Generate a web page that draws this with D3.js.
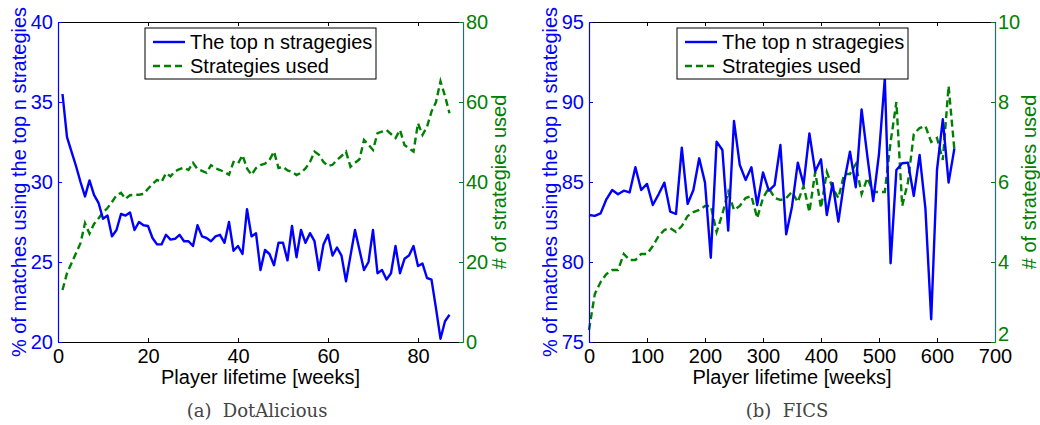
<!DOCTYPE html>
<html>
<head>
<meta charset="utf-8">
<script src="https://cdn.jsdelivr.net/npm/d3@7"></script>
<style>
  body { margin: 0; background: #fff; }
  svg { display: block; font-family: "Liberation Sans", Arial, sans-serif; }
</style>
</head>
<body>
<svg id="chart" width="1040" height="425"></svg>
<script>
// DotAlicious: one point per week, weeks 1..87
const dotaTop = [
  35.5, 32.8, 31.9, 31.0, 30.0, 29.1, 30.1, 29.2, 28.7, 27.7,
  27.9, 26.6, 27.0, 28.0, 27.9, 28.1, 27.0, 27.5, 27.3, 27.25,
  26.5, 26.1, 26.1, 26.7, 26.4, 26.45, 26.7, 26.3, 26.3, 26.0,
  27.3, 26.6, 26.5, 26.3, 26.6, 26.7, 26.2, 27.5, 25.7, 26.0,
  25.5, 28.3, 26.6, 26.8, 24.5, 25.75, 25.5, 24.8, 26.2, 26.2,
  25.1, 27.25, 25.3, 27.0, 26.2, 26.8, 26.3, 24.5, 26.1, 26.7,
  25.4, 25.9, 25.4, 23.8, 25.4, 27.0, 25.75, 24.5, 25.0, 27.0,
  24.3, 24.5, 23.9, 24.3, 26.0, 24.3, 25.2, 25.4, 26.0, 24.75,
  24.9, 24.0, 23.9, 22.1, 20.2, 21.3, 21.7
];
const dotaUsed = [
  13, 17.2, 19.7, 22.2, 24.7, 29.7, 27.1, 29.5, 30.9, 32.4,
  33.5, 35, 36.7, 37.3, 35.8, 36.7, 36.8, 36.8, 37, 38.3,
  39.5, 40.5, 40, 42.2, 41.4, 42.7, 43.2, 43.6, 43, 44.8,
  43.2, 42.8, 42.3, 44.2, 43.4, 43, 42.5, 41.8, 45, 44.6,
  46.7, 43.4, 41.8, 43.5, 44.25, 44.6, 45.5, 47.6, 43.5, 43.8,
  42.9, 42.5, 41.75, 42.3, 43.4, 45, 47.6, 46.8, 45, 44,
  44.3, 45.5, 46.5, 47.6, 43.8, 44.8, 45.7, 50.5, 49.3, 48,
  52.2, 52.6, 53, 52, 51, 53, 49.25, 48.4, 47.6, 54.7,
  51.75, 53.8, 57.6, 60, 65.2, 61.5, 57.2
];

// FICS: one point every 10 weeks, weeks 0..630
const ficsTop = [
  82.94, 82.88, 83.04, 83.92, 84.5, 84.23, 84.46, 84.35, 85.92, 84.5,
  84.88, 83.56, 84.23, 84.96, 83.15, 83.0, 87.15, 83.63, 84.5, 86.48,
  84.96, 80.27, 87.52, 87.0, 81.96, 88.81, 86.06, 85.13, 85.92, 83.56,
  85.6, 84.46, 84.81, 87.31, 81.73, 83.46, 86.21, 84.85, 88.04, 85.65,
  86.42, 82.94, 84.92, 82.52, 85.02, 86.9, 84.67, 89.54, 86.58, 83.81,
  86.75, 91.48, 79.92, 85.75, 86.17, 86.21, 84.13, 86.69, 83.35, 76.42,
  85.75, 88.92, 84.96, 87.1
];
const ficsUsed = [
  2.3, 3.2, 3.5, 3.7, 3.8, 3.8, 4.2, 4.05, 4.05, 4.2,
  4.2, 4.4, 4.65, 4.8, 4.85, 4.75, 4.9, 5.15, 5.25, 5.3,
  5.4, 5.4, 4.75, 5.2, 5.75, 5.3, 5.4, 5.6, 5.65, 5.1,
  5.6, 5.85, 5.6, 5.55, 5.6, 5.75, 5.5, 5.9, 5.25, 6.25,
  5.35, 6.25, 5.85, 5.6, 6.2, 6.2, 6.45, 5.7, 6.1, 5.75,
  5.75, 5.75, 7.0, 8.0, 5.4, 6.0, 7.2, 7.35, 7.4, 7.0,
  7.1, 6.55, 8.4, 6.8
];

const dotaXTicks = [0, 20, 40, 60, 80];
const dotaLeftTicks = [20, 25, 30, 35, 40];
const dotaRightTicks = [0, 20, 40, 60, 80];
const ficsXTicks = [0, 100, 200, 300, 400, 500, 600, 700];
const ficsLeftTicks = [75, 80, 85, 90, 95];
const ficsRightTicks = [2, 4, 6, 8, 10];

const legendLabels = ['The top n stragegies', 'Strategies used'];
const xLabel = 'Player lifetime [weeks]';
const leftLabel = '% of matches using the top n strategies';
const rightLabel = '# of strategies used';

const BLUE = '#0000ff';
const GREEN = '#008000';
const FS = 20;

const svg = d3.select('#chart');

function drawPanel(p) {
  const top = 22, bottom = 342;
  const x = d3.scaleLinear().domain(p.xDomain).range([p.left, p.right]);
  const yL = d3.scaleLinear().domain(p.yLDomain).range([bottom, top]);
  const yR = d3.scaleLinear().domain(p.yRDomain).range([bottom, top]);
  const g = svg.append('g');

  // lines
  const lineL = d3.line().x((d, i) => x(p.x0 + i * p.step)).y(d => yL(d));
  const lineR = d3.line().x((d, i) => x(p.x0 + i * p.step)).y(d => yR(d));
  g.append('path').datum(p.used)
    .attr('d', lineR).attr('fill', 'none')
    .attr('stroke', GREEN).attr('stroke-width', 2.4)
    .attr('stroke-dasharray', '7,4');
  g.append('path').datum(p.topN)
    .attr('d', lineL).attr('fill', 'none')
    .attr('stroke', BLUE).attr('stroke-width', 2.4)
    .attr('stroke-linejoin', 'round');

  // axes
  const styleAxis = (sel, color) => {
    sel.attr('font-size', FS).attr('font-family', '"Liberation Sans", Arial, sans-serif')
      .attr('color', color);
    sel.select('.domain').attr('stroke-width', 1.2);
  };
  g.append('g').attr('transform', `translate(0,${top})`)
    .call(d3.axisTop(x).tickValues(p.xTicks).tickSize(-4).tickSizeOuter(0).tickFormat(''))
    .call(sel => styleAxis(sel, '#000'));
  g.append('g').attr('transform', `translate(0,${bottom})`)
    .call(d3.axisBottom(x).tickValues(p.xTicks).tickSize(-4).tickSizeOuter(0).tickPadding(7))
    .call(sel => styleAxis(sel, '#000'));
  g.append('g').attr('transform', `translate(${p.left},0)`)
    .call(d3.axisLeft(yL).tickValues(p.leftTicks).tickSize(-4).tickSizeOuter(0).tickPadding(5))
    .call(sel => styleAxis(sel, BLUE));
  const rAx = g.append('g').attr('transform', `translate(${p.right},0)`)
    .call(d3.axisRight(yR).tickValues(p.rightTicks).tickSize(-4).tickSizeOuter(0).tickPadding(3))
    .call(sel => styleAxis(sel, GREEN));
  rAx.select('.domain').attr('stroke', '#2a6a80');
  // where an x label sits at the right corner, lift the lowest right label clear of it
  if (p.liftLowRight) {
    rAx.selectAll('.tick text').filter(d => d === p.rightTicks[0]).attr('dy', '-0.1em');
  }

  // axis labels
  g.append('text').attr('x', (p.left + p.right) / 2).attr('y', 384)
    .attr('text-anchor', 'middle').attr('font-size', FS).text(xLabel);
  g.append('text')
    .attr('transform', `translate(${p.left - 32},${(top + bottom) / 2}) rotate(-90)`)
    .attr('text-anchor', 'middle').attr('font-size', FS).attr('fill', BLUE).text(leftLabel);
  g.append('text')
    .attr('transform', `translate(${p.right + p.rLabelOff},${(top + bottom) / 2}) rotate(-90)`)
    .attr('text-anchor', 'middle').attr('font-size', FS).attr('fill', GREEN).text(rightLabel);

  // legend
  const lg = g.append('g').attr('transform', `translate(${p.legendX},28)`);
  lg.append('rect').attr('width', 231).attr('height', 51)
    .attr('fill', '#fff').attr('stroke', '#000').attr('stroke-width', 1);
  [[BLUE, null], [GREEN, '7,4']].forEach(([c, dash], i) => {
    const yy = 14 + i * 24;
    lg.append('line').attr('x1', 8).attr('x2', 40).attr('y1', yy).attr('y2', yy)
      .attr('stroke', c).attr('stroke-width', 2.4).attr('stroke-dasharray', dash);
    lg.append('text').attr('x', 45).attr('y', yy + 7).attr('font-size', FS)
      .text(legendLabels[i]);
  });

  // caption
  g.append('text').attr('x', p.capX).attr('y', 417).attr('text-anchor', 'middle')
    .attr('font-family', '"DejaVu Serif", serif').attr('font-size', 18)
    .attr('fill', '#444').style('white-space', 'pre').text(p.caption);
}

drawPanel({
  left: 58, right: 463, xDomain: [0, 90], yLDomain: [20, 40], yRDomain: [0, 80],
  x0: 1, step: 1, topN: dotaTop, used: dotaUsed,
  xTicks: dotaXTicks, leftTicks: dotaLeftTicks, rightTicks: dotaRightTicks,
  rLabelOff: 43, legendX: 145, capX: 257, caption: '(a)  DotAlicious', liftLowRight: false
});

drawPanel({
  left: 589, right: 995, xDomain: [0, 700], yLDomain: [75, 95], yRDomain: [2, 10],
  x0: 0, step: 10, topN: ficsTop, used: ficsUsed,
  xTicks: ficsXTicks, leftTicks: ficsLeftTicks, rightTicks: ficsRightTicks,
  rLabelOff: 41, legendX: 677, capX: 787, caption: '(b)  FICS', liftLowRight: true
});
</script>
</body>
</html>
